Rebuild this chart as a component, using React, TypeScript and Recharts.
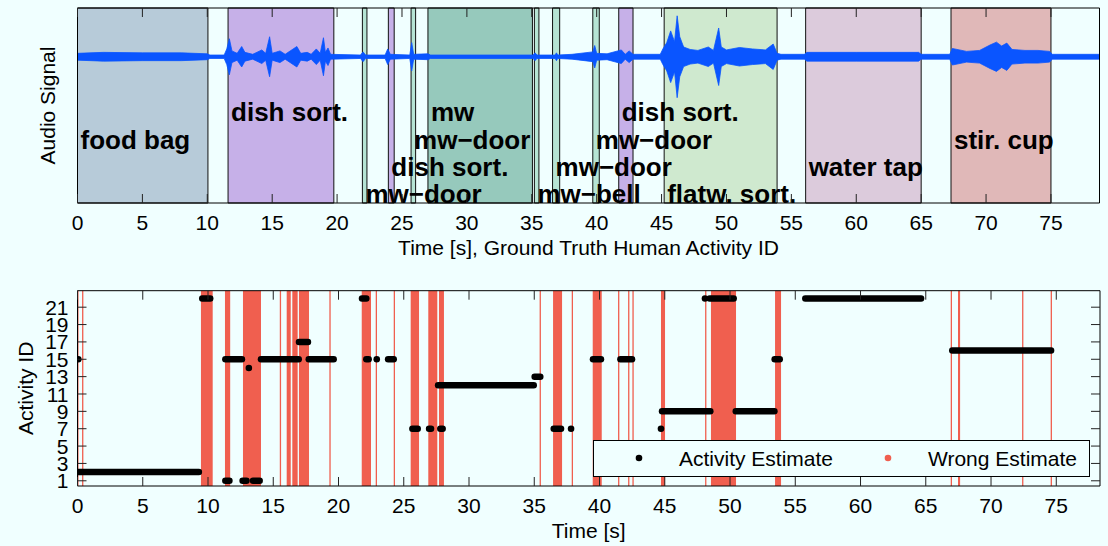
import React from "react";
import {
  ComposedChart,
  XAxis,
  YAxis,
  Area,
  Line,
  Scatter,
  ReferenceArea,
  Label,
} from "recharts";

const FONT = "'Liberation Sans', Arial, Helvetica, sans-serif";
const BG = "#f0ffff";
const RED = "#f05f4f";

// ---- top plot: audio envelope (time [s], half amplitude) ----
const sigTime = [
  0, 2, 5, 8, 10, 10.2, 11.3, 11.5, 11.7, 11.9, 12.3, 12.65, 12.9, 13.5, 14.2, 14.5, 14.8, 15.0,
  15.6, 16.0, 16.9, 17.2, 17.7, 18.0, 18.4, 18.7, 18.95, 19.1, 19.3, 19.5, 21.8, 22.0, 22.2, 23.7,
  23.9, 24.1, 25.6, 25.75, 25.9, 27.0, 27.2, 35.1, 35.25, 35.4, 36.8, 36.9, 37.0, 38.1, 39.7, 39.85,
  40.0, 40.8, 41.9, 42.2, 42.5, 42.8, 44.9, 45.1, 45.4, 45.7, 46.0, 46.2, 46.4, 46.7, 47.2, 47.8,
  48.6, 49.0, 49.4, 49.6, 50.0, 51.0, 52.0, 53.0, 53.6, 53.9, 54.2, 56.0, 56.2, 60, 64.8, 65.0,
  67.2, 67.4, 68.5, 69.5, 70.3, 70.8, 71.2, 71.6, 72.0, 73.0, 74.0, 74.9, 75.1, 78.7,
];
const sigAmp = [
  0.07, 0.09, 0.08, 0.08, 0.06, 0.035, 0.035, 0.16, 0.37, 0.12, 0.07, 0.21, 0.09, 0.05, 0.14, 0.07, 0.41, 0.07,
  0.12, 0.05, 0.21, 0.07, 0.09, 0.05, 0.16, 0.07, 0.39, 0.09, 0.18, 0.05, 0.035, 0.1, 0.035, 0.035,
  0.16, 0.05, 0.035, 0.29, 0.05, 0.06, 0.035, 0.035, 0.08, 0.035, 0.035, 0.08, 0.035, 0.05, 0.1, 0.23,
  0.07, 0.06, 0.14, 0.05, 0.12, 0.05, 0.05, 0.16, 0.29, 0.53, 0.31, 0.84, 0.41, 0.2, 0.15, 0.13,
  0.2, 0.13, 0.59, 0.2, 0.14, 0.19, 0.16, 0.14, 0.26, 0.07, 0.05, 0.05, 0.09, 0.09, 0.09, 0.05,
  0.05, 0.17, 0.11, 0.13, 0.24, 0.3, 0.22, 0.28, 0.15, 0.13, 0.13, 0.11, 0.05, 0.05,
];

// ground truth activities
const gtStart = [0, 11.6, 21.95, 23.95, 25.7, 27.0, 35.2, 36.6, 39.7, 41.7, 45.2, 56.1, 67.3];
const gtEnd = [10.05, 19.75, 22.3, 24.4, 26.05, 35.05, 35.55, 37.15, 40.2, 42.8, 53.9, 65.0, 75.0];
const gtName = [
  "food bag", "dish sort.", "mw\u2212door", "dish sort.", "mw\u2212door", "mw", "mw\u2212bell",
  "mw\u2212door", "mw\u2212door", "dish sort.", "flatw. sort.", "water tap", "stir. cup",
];

const GT_COLORS: Record<string, string> = {
  "food bag": "#b7cbd9",
  "dish sort.": "#c6b0e8",
  "mw\u2212door": "#b6e4d4",
  mw: "#96c9bc",
  "mw\u2212bell": "#b6e4d4",
  "flatw. sort.": "#cfe9cf",
  "water tap": "#dccbdc",
  "stir. cup": "#e0b8b8",
};
// label rows (baseline, data units), cycled
const LABEL_ROWS = [-1.887, -1.313, -2.995, -2.441];

// ---- bottom plot: activity estimates ----
const estStart = [
  0.0, 9.56, 11.33, 11.33, 12.65, 13.45, 14.06, 16.97, 17.72, 21.8, 22.13, 23.8, 25.66, 26.94, 27.8,
  27.63, 35.03, 36.49, 39.5, 41.6, 44.79, 48.44, 50.44, 53.42, 55.77, 67.03,
];
const estEnd = [
  9.3, 10.17, 11.64, 12.6, 12.95, 13.96, 16.95, 17.66, 19.63, 22.13, 22.31, 24.23, 26.07, 27.09, 27.98,
  34.96, 35.46, 37.05, 40.11, 42.49, 48.49, 50.28, 53.4, 53.81, 64.64, 74.6,
];
const estId = [2, 22, 1, 15, 1, 1, 15, 17, 15, 22, 15, 15, 7, 7, 7, 12, 13, 7, 15, 15, 9, 22, 9, 15, 22, 16];

const dotTime = [0.06, 13.13, 22.93, 37.82, 44.71, 48.08];
const dotId = [15, 14, 15, 7, 7, 22];

const wrongStart = [
  0.0, 0.35, 9.46, 11.3, 12.68, 15.5, 16.03, 16.46, 16.97, 19.3, 21.78, 22.85, 24.23, 25.53, 26.88,
  27.7, 35.41, 36.44, 37.87, 39.48, 41.42, 42.19, 42.52, 44.71, 48.09, 48.54, 53.45, 66.91, 67.47,
  72.38, 74.57,
];
const wrongEnd = [
  0.08, 0.45, 10.36, 11.7, 14.06, 15.6, 16.34, 16.87, 17.74, 19.4, 22.49, 22.95, 24.33, 26.17, 27.57,
  28.08, 35.51, 37.13, 37.97, 40.17, 41.52, 42.29, 42.62, 45.02, 48.19, 50.46, 53.91, 67.01, 67.63,
  72.48, 74.67,
];

const xTicks = [0, 5, 10, 15, 20, 25, 30, 35, 40, 45, 50, 55, 60, 65, 70, 75];
const yTicks = [1, 3, 5, 7, 9, 11, 13, 15, 17, 19, 21];

const TOP_X_MAX = 78.74;
const BOT_X_MAX = 78.35;
const TOP_PLOT_H = 195;
const BOT_PLOT_H = 195.3;
const BOT_PLOT_W = 1022.5;

const sigRows = sigTime.map((t, i) => ({ t, band: [-sigAmp[i], sigAmp[i]] }));
const labelRows = gtName.map((name, i) => ({ t: gtStart[i], y: LABEL_ROWS[i % 4], name }));
const dotRows = dotTime.map((t, i) => ({ t, id: dotId[i] }));

function makeXTick(plotH: number, labelDy: number) {
  return (props: any) => {
    const { x, y, payload } = props;
    return (
      <g>
        <line x1={x} x2={x} y1={y} y2={y - 9} stroke="#222" strokeWidth={1} />
        <line x1={x} x2={x} y1={y - plotH} y2={y - plotH + 9} stroke="#222" strokeWidth={1} />
        <text x={x} y={y + labelDy} textAnchor="middle" fontSize={21} fontFamily={FONT} fill="#000">
          {payload.value}
        </text>
      </g>
    );
  };
}

function YTick(props: any) {
  const { x, y, payload } = props;
  return (
    <g>
      <line x1={x} x2={x + 9} y1={y} y2={y} stroke="#222" strokeWidth={1} />
      <line x1={x + BOT_PLOT_W - 9} x2={x + BOT_PLOT_W} y1={y} y2={y} stroke="#222" strokeWidth={1} />
      <text x={x - 9} y={y} dy="0.36em" textAnchor="end" fontSize={21} fontFamily={FONT} fill="#000">
        {payload.value}
      </text>
    </g>
  );
}

function GtLabel(props: any) {
  const { cx, cy, payload } = props;
  return (
    <text x={cx + 3} y={cy} fontSize={26} fontWeight="bold" fontFamily={FONT} fill="#000">
      {payload.name}
    </text>
  );
}

export default function App() {
  return (
    <div style={{ position: "fixed", left: 0, top: 0, width: 1108, height: 546, background: BG, fontFamily: FONT }}>
      <div style={{ position: "absolute", left: 0, top: 0 }}>
        <ComposedChart width={1108} height={262} data={sigRows} margin={{ top: 8, right: 8.5, bottom: 0, left: 0 }}>
          <XAxis
            dataKey="t"
            type="number"
            domain={[0, TOP_X_MAX]}
            allowDataOverflow
            ticks={xTicks}
            interval={0}
            axisLine={false}
            tickLine={false}
            tickSize={0}
            tickMargin={0}
            height={59}
            tick={makeXTick(TOP_PLOT_H, 26.5)}
          >
            <Label
              content={(p: any) => (
                <text
                  x={p.viewBox.x + p.viewBox.width / 2}
                  y={p.viewBox.y + 52}
                  textAnchor="middle"
                  fontSize={21}
                  fontFamily={FONT}
                  fill="#000"
                >
                  Time [s], Ground Truth Human Activity ID
                </text>
              )}
            />
          </XAxis>
          <YAxis
            type="number"
            domain={[-3, 1]}
            allowDataOverflow
            width={77.5}
            tick={false}
            axisLine={false}
            tickLine={false}
          >
            <Label
              content={(p: any) => {
                const cy = p.viewBox.y + p.viewBox.height / 2;
                return (
                  <text
                    x={55}
                    y={cy}
                    transform={`rotate(-90, 55, ${cy})`}
                    textAnchor="middle"
                    fontSize={21}
                    fontFamily={FONT}
                    fill="#000"
                  >
                    Audio Signal
                  </text>
                );
              }}
            />
          </YAxis>
          {gtStart.map((s, i) => (
            <ReferenceArea
              key={`gt-${i}`}
              x1={s}
              x2={gtEnd[i]}
              fill={GT_COLORS[gtName[i]]}
              fillOpacity={1}
              stroke="#111"
              strokeWidth={1}
            />
          ))}
          <Area
            dataKey="band"
            type="linear"
            fill="#0a55ff"
            fillOpacity={1}
            stroke="#0a55ff"
            strokeWidth={0.8}
            isAnimationActive={false}
            activeDot={false}
            dot={false}
          />
          <Scatter data={labelRows} dataKey="y" shape={GtLabel} isAnimationActive={false} />
          <ReferenceArea x1={0} x2={TOP_X_MAX} y1={-3} y2={1} fill="none" stroke="#000" strokeWidth={1} />
        </ComposedChart>
      </div>

      <div style={{ position: "absolute", left: 0, top: 262 }}>
        <ComposedChart width={1108} height={284} margin={{ top: 28.7, right: 8, bottom: 0, left: 0 }}>
          <XAxis
            dataKey="t"
            type="number"
            domain={[0, BOT_X_MAX]}
            allowDataOverflow
            ticks={xTicks}
            interval={0}
            axisLine={false}
            tickLine={false}
            tickSize={0}
            tickMargin={0}
            height={60}
            tick={makeXTick(BOT_PLOT_H, 26.7)}
          >
            <Label
              content={(p: any) => (
                <text
                  x={p.viewBox.x + p.viewBox.width / 2}
                  y={p.viewBox.y + 52}
                  textAnchor="middle"
                  fontSize={21}
                  fontFamily={FONT}
                  fill="#000"
                >
                  Time [s]
                </text>
              )}
            />
          </XAxis>
          <YAxis
            type="number"
            domain={[0.4, 22.9]}
            allowDataOverflow
            ticks={yTicks}
            interval={0}
            width={77.5}
            axisLine={false}
            tickLine={false}
            tickSize={0}
            tickMargin={0}
            tick={YTick}
          >
            <Label
              content={(p: any) => {
                const cy = p.viewBox.y + p.viewBox.height / 2;
                return (
                  <text
                    x={33}
                    y={cy}
                    transform={`rotate(-90, 33, ${cy})`}
                    textAnchor="middle"
                    fontSize={21}
                    fontFamily={FONT}
                    fill="#000"
                  >
                    Activity ID
                  </text>
                );
              }}
            />
          </YAxis>
          {wrongStart.map((s, i) => (
            <ReferenceArea key={`w-${i}`} x1={s} x2={wrongEnd[i]} fill={RED} fillOpacity={1} stroke="none" />
          ))}
          {estStart.map((s, i) => (
            <Line
              key={`e-${i}`}
              data={[
                { t: s, id: estId[i] },
                { t: estEnd[i], id: estId[i] },
              ]}
              dataKey="id"
              type="linear"
              stroke="#000"
              strokeWidth={6.5}
              strokeLinecap="round"
              dot={false}
              activeDot={false}
              isAnimationActive={false}
            />
          ))}
          <Scatter
            data={dotRows}
            dataKey="id"
            isAnimationActive={false}
            shape={(p: any) => <circle cx={p.cx} cy={p.cy} r={3.3} fill="#000" />}
          />
          <ReferenceArea x1={0} x2={BOT_X_MAX} y1={0.4} y2={22.9} fill="none" stroke="#000" strokeWidth={1} />
        </ComposedChart>
      </div>

      <svg
        width={497}
        height={37}
        style={{ position: "absolute", left: 593, top: 440 }}
      >
        <rect x={0.5} y={0.5} width={496} height={36} fill={BG} stroke="#000" strokeWidth={1} />
        <circle cx={46} cy={18} r={3.3} fill="#000" />
        <text x={86} y={25.5} fontSize={21} fontFamily={FONT} fill="#000">
          Activity Estimate
        </text>
        <circle cx={295} cy={18} r={3.3} fill={RED} />
        <text x={335} y={25.5} fontSize={21} fontFamily={FONT} fill="#000">
          Wrong Estimate
        </text>
      </svg>
    </div>
  );
}
